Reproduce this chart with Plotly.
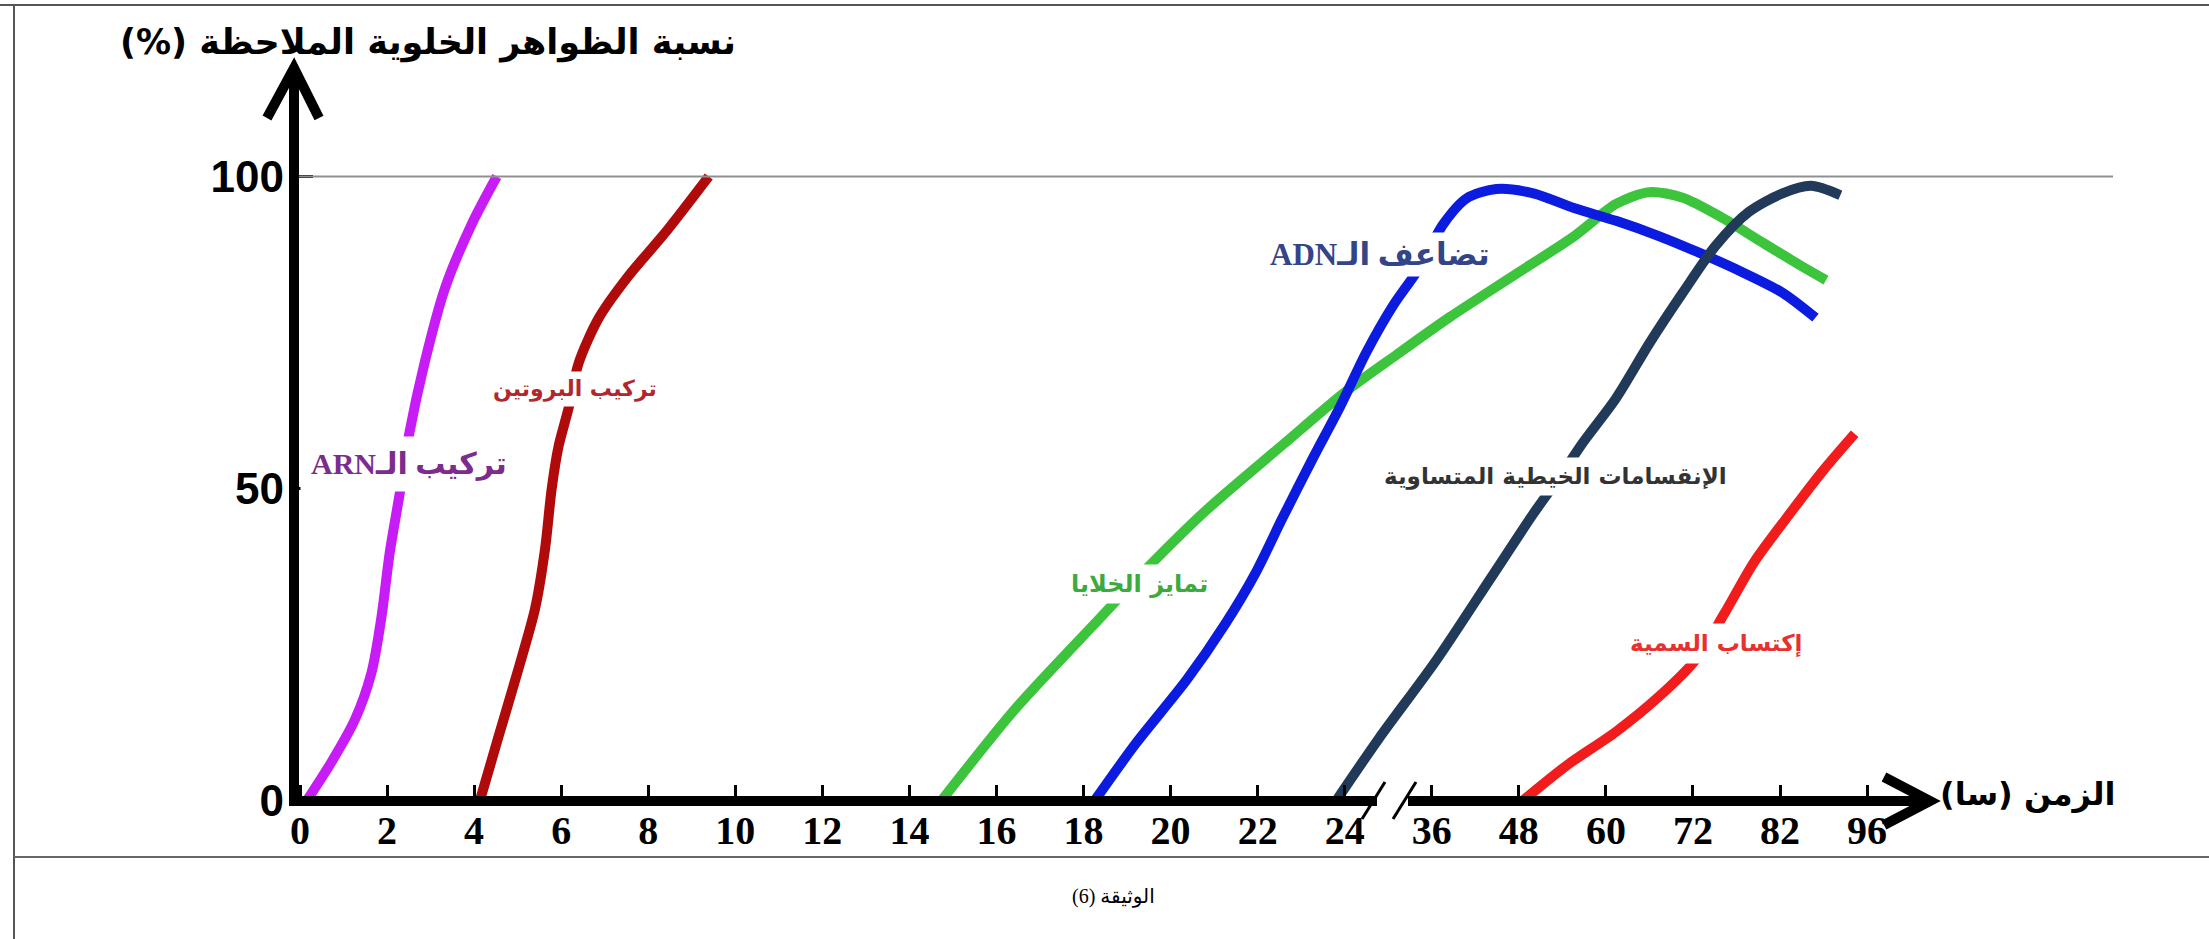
import numpy as np
import plotly.graph_objects as go

W, H = 2209, 939

# ---------------- data ----------------
# broken time axis (hours): equally spaced tick positions
tick_hours = [0, 2, 4, 6, 8, 10, 12, 14, 16, 18, 20, 22, 24, 36, 48, 60, 72, 82, 96]
tick_labels = [str(h) for h in tick_hours]
y_tick_vals = [0, 50, 100]
y_tick_text = ["0", "50", "100"]

# ARN synthesis
arn_h = [0.15, 0.72, 1.26, 1.64, 1.87, 2.06, 2.29, 2.52, 2.87, 3.33, 3.94, 4.52]
arn_p = [0, 6.2, 13, 20.5, 29.4, 39.7, 49.2, 59.2, 70.4, 82.1, 92.3, 100]

# protein synthesis
prot_h = [4.13, 4.56, 5.02, 5.40, 5.63, 5.78, 5.94, 6.17, 6.40, 6.86, 7.55, 8.39, 9.39]
prot_p = [0, 10.3, 21.2, 30.8, 40.4, 49.9, 56.8, 62.9, 70.1, 77.3, 84.1, 91, 100]

# cell differentiation
diff_h = [14.73, 16.4, 18.34, 19.49, 20.81, 22.57, 24.07, 31.2, 38.5, 47.1, 55.7, 61.4, 66, 70.6, 75.1, 79.9, 85.7, 89.4]
diff_p = [0, 14.5, 29, 37.5, 46.5, 57, 65.5, 71.5, 77.5, 84, 90.5, 95.6, 97.5, 96.6, 93.6, 89.5, 85.5, 83.4]

# DNA replication
adn_h = [18.25, 19.2, 20.37, 21.25, 21.95, 22.57, 23.27, 23.89, 27, 30.7, 34, 37.6, 40.8, 44.9, 50, 55.7, 61.4, 67.2, 72.7, 77.5, 82.4, 87.7]
adn_p = [0, 9.2, 19.4, 28.3, 36.5, 45.3, 54.9, 63.1, 71.9, 79.4, 84.9, 92.4, 96.5, 98.0, 97.3, 94.9, 92.9, 90.5, 87.8, 84.8, 81.4, 77.4]

# mitosis
mit_h = [23.8, 28.7, 36.6, 44.3, 50, 54, 56.9, 61.4, 66, 70.6, 74.6, 78.4, 82.4, 87, 91.7]
mit_p = [0, 10, 22.5, 36, 46, 52.5, 57.5, 64.5, 73.3, 81.4, 88.9, 94.3, 97.3, 98.5, 97]

# acquisition of toxicity
tox_h = [48.5, 54.6, 61.4, 67.2, 72.3, 75.6, 79, 83.8, 89, 94]
tox_p = [0, 5.7, 11.1, 16.6, 22.6, 30, 38.2, 46.3, 53, 58.8]

# ---------------- geometry ----------------
X0_PX, DX = 300.0, 87.06     # pixel of tick index 0, pixels per tick step
Y0_PX, DY = 801.0, 6.245     # pixel of 0 %, pixels per percent
YAX_PX = 294.0               # y axis line position

xr = [-X0_PX / DX, (W - X0_PX) / DX]
yr = [-(H - Y0_PX) / DY, Y0_PX / DY]


def to_axis(hours):
    return np.interp(hours, tick_hours, np.arange(len(tick_hours)))


def px(x):
    return x / W


def py(y):
    return 1 - y / H


def rtl(s):
    # right-to-left embedding so mixed Arabic/Latin text is ordered correctly
    return "\u202b" + s + "\u202c"


fig = go.Figure()

series = [
    (arn_h, arn_p, "#C71CF5"),
    (prot_h, prot_p, "#B00A0A"),
    (diff_h, diff_p, "#3CC43C"),
    (adn_h, adn_p, "#0B1BE0"),
    (mit_h, mit_p, "#223A5A"),
    (tox_h, tox_p, "#F21C1C"),
]
for h, p, c in series:
    fig.add_trace(go.Scatter(
        x=to_axis(h), y=p, mode="lines",
        line=dict(color=c, width=10, shape="spline", smoothing=0.8),
        hoverinfo="skip", showlegend=False,
    ))

shapes = []
# frame
shapes.append(dict(type="line", xref="paper", yref="paper", x0=0, x1=1, y0=py(5), y1=py(5),
                   line=dict(color="#555555", width=2)))
shapes.append(dict(type="line", xref="paper", yref="paper", x0=px(14), x1=px(14), y0=py(5), y1=0,
                   line=dict(color="#555555", width=2)))
shapes.append(dict(type="line", xref="paper", yref="paper", x0=px(14), x1=1, y0=py(857), y1=py(857),
                   line=dict(color="#666666", width=2)))
# 100 % reference line
shapes.append(dict(type="line", xref="paper", yref="y", x0=px(YAX_PX), x1=px(2113), y0=100, y1=100,
                   line=dict(color="#8f8f8f", width=2)))
# y axis + arrow
shapes.append(dict(type="line", xref="paper", yref="paper", x0=px(YAX_PX), x1=px(YAX_PX),
                   y0=py(Y0_PX + 5), y1=py(70), line=dict(color="black", width=10)))
shapes.append(dict(type="path", xref="paper", yref="paper",
                   path=f"M{px(267)},{py(118)} L{px(YAX_PX)},{py(68)} L{px(319)},{py(118)}",
                   line=dict(color="black", width=10)))
# x axis (broken) + arrow
shapes.append(dict(type="line", xref="paper", yref="paper", x0=px(YAX_PX - 5), x1=px(1377),
                   y0=py(Y0_PX), y1=py(Y0_PX), line=dict(color="black", width=10)))
shapes.append(dict(type="line", xref="paper", yref="paper", x0=px(1408), x1=px(1926),
                   y0=py(Y0_PX), y1=py(Y0_PX), line=dict(color="black", width=10)))
shapes.append(dict(type="path", xref="paper", yref="paper",
                   path=f"M{px(1884)},{py(777)} L{px(1930)},{py(Y0_PX)} L{px(1884)},{py(825)}",
                   line=dict(color="black", width=10)))
for x0 in (1362, 1393):
    shapes.append(dict(type="line", xref="paper", yref="paper", x0=px(x0), x1=px(x0 + 23),
                       y0=py(819), y1=py(782), line=dict(color="black", width=3)))

ar_font = "DejaVu Sans"
lat_font = "Liberation Serif, DejaVu Sans"

annotations = [
    # axis titles
    dict(x=px(428), y=py(42), text=rtl("نسبة الظواهر الخلوية الملاحظة (%)"),
         font=dict(family=ar_font, size=35, color="black", weight="bold")),
    dict(x=px(2027), y=py(794), text=rtl("الزمن (سا)"),
         font=dict(family=ar_font, size=32, color="black", weight="bold")),
    dict(x=px(1113), y=py(896), text=rtl("الوثيقة (6)"),
         font=dict(family=lat_font, size=20, color="black")),
    # curve labels
    dict(x=px(409), y=py(464), text=rtl("تركيب الـARN"), bgcolor="white", borderpad=10,
         font=dict(family=lat_font, size=30, color="#7B2C8C", weight="bold")),
    dict(x=px(575), y=py(389), text=rtl("تركيب البروتين"), bgcolor="white", borderpad=4,
         font=dict(family=ar_font, size=22, color="#B3262B", weight="bold")),
    dict(x=px(1380), y=py(254), text=rtl("تضاعف الـADN"), bgcolor="white", borderpad=4,
         font=dict(family=lat_font, size=31, color="#334488", weight="bold")),
    dict(x=px(1139), y=py(584), text=rtl("تمايز الخلايا"), bgcolor="white", borderpad=5,
         font=dict(family=ar_font, size=24, color="#3DAA3D", weight="bold")),
    dict(x=px(1555), y=py(476), text=rtl("الإنقسامات الخيطية المتساوية"), bgcolor="white", borderpad=5,
         font=dict(family=ar_font, size=23, color="#333333", weight="bold")),
    dict(x=px(1716), y=py(643), text=rtl("إكتساب السمية"), bgcolor="white", borderpad=6,
         font=dict(family=ar_font, size=23, color="#E8302F", weight="bold")),
]
for a in annotations:
    a.update(xref="paper", yref="paper", showarrow=False, xanchor="center", yanchor="middle")

fig.update_layout(
    width=W, height=H, autosize=False,
    margin=dict(l=0, r=0, t=0, b=0, pad=0),
    paper_bgcolor="white", plot_bgcolor="white",
    showlegend=False,
    shapes=shapes,
    annotations=annotations,
    xaxis=dict(
        range=xr, anchor="free", position=1 - Y0_PX / H,
        tickmode="array", tickvals=list(range(len(tick_hours))), ticktext=tick_labels,
        ticks="inside", ticklen=16, tickwidth=3, tickcolor="black",
        showgrid=False, zeroline=False, showline=False, fixedrange=True,
        tickfont=dict(family="Liberation Serif", size=40, color="black", weight="bold"),
        ticklabelstandoff=2,
    ),
    yaxis=dict(
        range=yr, anchor="free", position=YAX_PX / W,
        tickmode="array", tickvals=y_tick_vals, ticktext=y_tick_text,
        ticks="inside", ticklen=18, tickwidth=3, tickcolor="black",
        showgrid=False, zeroline=False, showline=False, fixedrange=True,
        tickfont=dict(family="Liberation Sans Narrow, Liberation Sans", size=44, color="black", weight="bold"),
        ticklabelstandoff=10,
    ),
)

fig.write_html("out.html", config={"displayModeBar": False},
               post_script="document.body.style.margin='0';document.body.style.overflow='hidden';")
